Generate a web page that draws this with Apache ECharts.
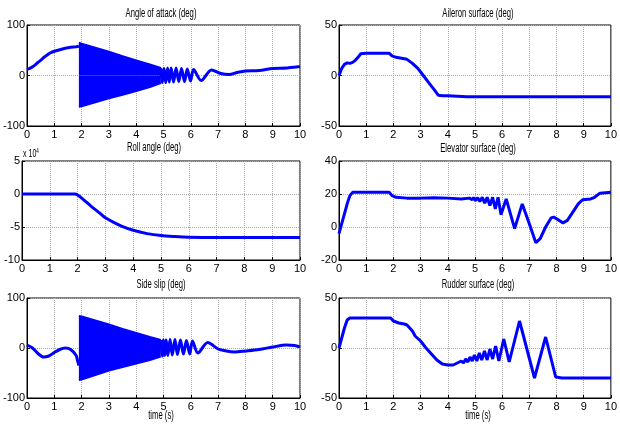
<!DOCTYPE html>
<html>
<head>
<meta charset="utf-8">
<script src="https://cdn.jsdelivr.net/npm/echarts@6/dist/echarts.min.js"></script>
<style>
  html, body { margin: 0; padding: 0; background: #fff; }
  #chart { width: 620px; height: 425px; }
</style>
</head>
<body>
<div id="chart"></div>
<script>
// Angle of attack (deg)
const aoaHeadT = [0, 0.1, 0.2, 0.3, 0.4, 0.5, 0.6, 0.7, 0.8, 0.9, 1.0, 1.2, 1.4, 1.6, 1.8, 1.9];
const aoaHeadV = [12, 14, 17, 21, 26, 30, 35, 39, 43, 46, 48, 51, 54, 56, 57, 58];
const aoaBandT = [1.9, 2.0, 2.5, 3.0, 3.5, 4.0, 4.5, 4.9];
const aoaUpper = [65, 63, 55, 47, 38, 30, 22, 15];
const aoaLower = [-62, -61, -53, -45, -38, -31, -23, -15];
const aoaTailT = [4.9, 4.95, 5.02, 5.08, 5.15, 5.21, 5.28, 5.37, 5.46, 5.56, 5.66, 5.77, 5.87, 5.99, 6.1, 6.38, 6.76, 7.1, 7.4, 7.7, 8.0, 8.5, 9.0, 9.5, 10];
const aoaTailV = [15, -14, 14, -14, 15, -13, 15, -13, 15, -12, 14, -12, 13, -11, 12, -10, 11, 4, 2, 6, 9, 10, 14, 15, 18];

// Aileron surface (deg)
const ailT = [0, 0.1, 0.2, 0.3, 0.4, 0.5, 0.6, 0.7, 0.8, 1.0, 1.5, 1.85, 1.95, 2.1, 2.3, 2.5, 2.7, 2.9, 3.1, 3.3, 3.5, 3.65, 3.8, 4.0, 4.7, 6.0, 8.0, 10];
const ailV = [0, 7, 11, 12.5, 12, 13, 15, 18, 21.5, 22, 22, 22, 19.5, 18, 17, 16, 12, 7, 0, -7, -14, -19.5, -20, -20, -21, -21, -21, -21];

// Roll angle (deg), in units of 10^4
const rollT = [0, 1.0, 1.9, 2.0, 2.2, 2.5, 2.8, 3.0, 3.3, 3.6, 4.0, 4.5, 5.0, 5.5, 6.0, 7.0, 8.0, 9.0, 10];
const rollV = [0, 0, 0, -0.15, -0.8, -1.9, -2.9, -3.6, -4.3, -4.9, -5.5, -6.0, -6.3, -6.45, -6.55, -6.6, -6.6, -6.6, -6.6];

// Elevator surface (deg)
const elvT = [0, 0.1, 0.2, 0.3, 0.4, 0.5, 1.0, 1.85, 1.95, 2.1, 2.5, 3.0, 3.5, 4.0, 4.5, 4.8, 4.9, 4.95, 5.02, 5.1, 5.18, 5.27, 5.36, 5.45, 5.55, 5.65, 5.75, 5.85, 5.96, 6.15, 6.46, 6.74, 7.0, 7.24, 7.4, 7.6, 7.8, 7.9, 8.0, 8.24, 8.4, 8.6, 8.8, 8.96, 9.26, 9.4, 9.6, 10];
const elvV = [-4, 2, 8, 14, 19, 21, 21, 21, 19, 18, 17.5, 17.5, 17.7, 17.5, 17, 17.5, 16.5, 17.8, 16, 17.8, 15.5, 18, 14.5, 18, 13, 18, 11, 18, 7.5, 17, -1, 14, 2, -9.5, -7, 0, 5.5, 6, 5, 2.5, 4, 9, 14, 16.5, 17, 18, 20.5, 21];

// Side slip (deg)
const ssHeadT = [0, 0.2, 0.4, 0.6, 0.8, 1.0, 1.2, 1.4, 1.6, 1.8, 1.85, 1.9];
const ssHeadV = [6, 0, -11, -18, -16, -9, -3, 0, -3, -15, -25, -35];
const ssBandT = [1.9, 2.0, 2.5, 3.0, 3.5, 4.0, 4.5, 4.9];
const ssUpper = [64, 63, 55, 47, 38, 30, 22, 16];
const ssLower = [-64, -63, -54, -45, -38, -31, -24, -17];
const ssTailT = [4.9, 4.95, 5.0, 5.05, 5.1, 5.16, 5.24, 5.32, 5.42, 5.51, 5.62, 5.73, 5.84, 5.96, 6.06, 6.26, 6.62, 7.0, 7.3, 7.6, 8.0, 8.5, 9.0, 9.5, 9.8, 10];
const ssTailV = [16, -16, 16, -15, 16, -15, 17, -14, 17, -13, 16, -12, 15, -12, 14, -10, 11, -2, -6, -8, -6, -3, 2, 6, 5, 2];

// Rudder surface (deg)
const rudT = [0, 0.1, 0.2, 0.3, 0.4, 1.0, 1.9, 2.0, 2.2, 2.4, 2.5, 2.7, 2.8, 3.0, 3.2, 3.4, 3.6, 3.8, 4.0, 4.2, 4.35, 4.42, 4.5, 4.58, 4.66, 4.74, 4.82, 4.9, 4.98, 5.07, 5.16, 5.25, 5.35, 5.45, 5.55, 5.65, 5.76, 5.88, 6.06, 6.26, 6.64, 7.19, 7.6, 7.97, 8.2, 10];
const rudV = [0, 10, 20, 28, 30, 30, 30, 27, 25, 24, 23, 17, 12, 7, 0, -6, -12, -16, -17, -17, -15, -16, -13, -15, -11, -14, -9, -13, -7, -13, -5, -12, -3, -12, -1, -11, 2, -13, 9, -14, 27, -30, 11, -29, -30, -30];

// subplot titles and y ranges (left column then right column, row by row)
const titles = ['Angle of attack (deg)', 'Aileron surface (deg)', 'Roll angle (deg)', 'Elevator surface (deg)', 'Side slip (deg)', 'Rudder surface (deg)'];
const yRanges = [[-100, 100, 100], [-50, 50, 50], [-10, 5, 5], [-20, 40, 20], [-100, 100, 100], [-50, 50, 50]];
const xLabel = 'time (s)';

const FONT = '"Liberation Sans", Arial, sans-serif';
const BLUE = '#0000ff';
const SQUEEZE = 0.64; // the reference text is horizontally compressed

const colLeft = [22, 339];
const colWidth = [278, 277];
const rowTop = [25, 161, 298];
const rowHeight = [101, 99, 100];

function pairs(t, v) {
    return t.map((x, i) => [x, v[i]]);
}

function lineSeries(idx, t, v, smooth) {
    return {
        type: 'line', xAxisIndex: idx, yAxisIndex: idx,
        data: pairs(t, v), smooth: smooth || false,
        showSymbol: false, symbol: 'none',
        lineStyle: { color: BLUE, width: 3 },
        itemStyle: { color: BLUE },
        z: 3
    };
}

// dense oscillation drawn as a filled band: upper envelope filled down to 0,
// lower envelope filled up to 0
function bandSeries(idx, t, lower, upper) {
    return [upper, lower].map(env => ({
        type: 'line', xAxisIndex: idx, yAxisIndex: idx,
        data: pairs(t, env),
        showSymbol: false, symbol: 'none',
        lineStyle: { color: BLUE, width: 2 },
        areaStyle: { color: BLUE, opacity: 1, origin: 0 },
        z: 3
    }));
}

const grids = [], xAxes = [], yAxes = [];
for (let i = 0; i < 6; i++) {
    const r = Math.floor(i / 2), c = i % 2;
    grids.push({
        left: colLeft[c], top: rowTop[r], width: colWidth[c], height: rowHeight[r],
        show: true, borderColor: '#000', borderWidth: 1, backgroundColor: '#fff'
    });
    xAxes.push({
        type: 'value', gridIndex: i, min: 0, max: 10, interval: 1,
        axisLine: { show: true, onZero: false, lineStyle: { color: '#000', width: 1 } },
        axisTick: { show: true, inside: true, length: 3, lineStyle: { color: '#000' } },
        axisLabel: { color: '#000', fontSize: 11, fontFamily: FONT, margin: 3 },
        splitLine: { show: true, lineStyle: { type: 'dotted', color: '#a8a8a8', width: 1 } }
    });
    yAxes.push({
        type: 'value', gridIndex: i, min: yRanges[i][0], max: yRanges[i][1], interval: yRanges[i][2],
        axisLine: { show: true, onZero: false, lineStyle: { color: '#000', width: 1 } },
        axisTick: { show: true, inside: true, length: 3, lineStyle: { color: '#000' } },
        axisLabel: { color: '#000', fontSize: 11, fontFamily: FONT, margin: 2 },
        splitLine: { show: true, lineStyle: { type: 'dotted', color: '#a8a8a8', width: 1 } }
    });
}

const series = [
    lineSeries(0, aoaHeadT, aoaHeadV),
    ...bandSeries(0, aoaBandT, aoaLower, aoaUpper),
    lineSeries(0, aoaTailT, aoaTailV, 0.3),
    lineSeries(1, ailT, ailV),
    lineSeries(2, rollT, rollV, 0.3),
    lineSeries(3, elvT, elvV),
    lineSeries(4, ssHeadT, ssHeadV, 0.3),
    ...bandSeries(4, ssBandT, ssLower, ssUpper),
    lineSeries(4, ssTailT, ssTailV, 0.3),
    lineSeries(5, rudT, rudV)
];

// titles, exponent note and x axis names as plain text
const titlePos = [[161, 14], [478, 14], [154, 148], [478, 149], [161, 285], [478, 285]];
const graphics = titles.map((txt, i) => ({
    type: 'text', x: titlePos[i][0], y: titlePos[i][1], scaleX: SQUEEZE, z: 10,
    style: { text: txt, fill: '#000', font: '12px ' + FONT, textAlign: 'center', textVerticalAlign: 'middle' }
}));
graphics.push({
    type: 'text', x: 23, y: 154, scaleX: SQUEEZE, z: 10,
    style: {
        text: '{a|x 10}{b|4}', textVerticalAlign: 'middle',
        rich: {
            a: { fontSize: 11, fontFamily: FONT, fill: '#000', color: '#000' },
            b: { fontSize: 7, fontFamily: FONT, fill: '#000', color: '#000', verticalAlign: 'top', padding: [0, 0, 6, 0] }
        }
    }
});
[161, 478].forEach(x => graphics.push({
    type: 'text', x: x, y: 416, scaleX: SQUEEZE, z: 10,
    style: { text: xLabel, fill: '#000', font: '12px ' + FONT, textAlign: 'center', textVerticalAlign: 'middle' }
}));

const chart = echarts.init(document.getElementById('chart'));
chart.setOption({
    backgroundColor: '#fff',
    animation: false,
    grid: grids,
    xAxis: xAxes,
    yAxis: yAxes,
    series: series,
    graphic: graphics
});
</script>
</body>
</html>
